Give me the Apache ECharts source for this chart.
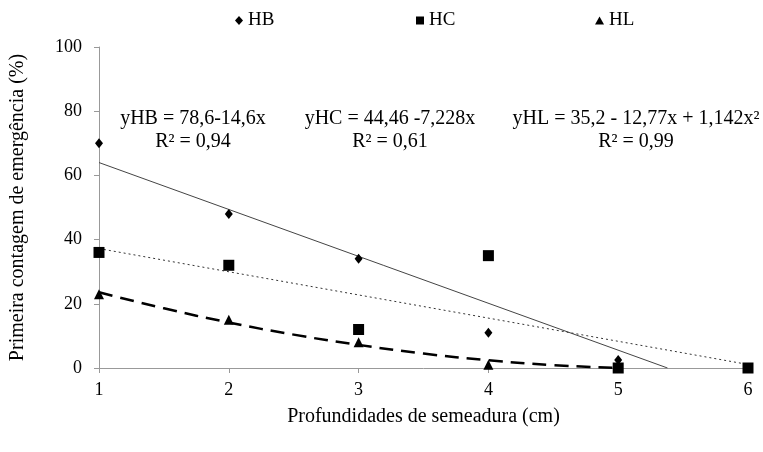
<!DOCTYPE html>
<html>
<head>
<meta charset="utf-8">
<script src="https://cdn.jsdelivr.net/npm/echarts@6/dist/echarts.min.js"></script>
<style>
  html, body { margin: 0; padding: 0; background: #fff; }
  #chart { width: 763px; height: 452px; }
</style>
</head>
<body>
<div id="chart"></div>
<script>
// profundidade (cm)
var depths = [1, 2, 3, 4, 5, 6];
// observed values (%)
var hbValues = [70, 48, 34, 11, 2.5, 0];
var hcValues = [36, 32, 12, 35, 0, 0];
var hlValues = [23, 15, 8, 1, 0, 0];

// trend lines
var hbTrend = [[1, 64], [5.38, 0]];
var hcTrend = [[1, 37.2], [6, 1.1]];
var hlTrendX = [1, 1.5, 2, 2.5, 3, 3.5, 4, 4.5, 5];
var hlTrendY = [23.6, 18.6, 14.2, 10.4, 7.2, 4.5, 2.4, 0.9, 0];

var eqLines = ['yHB = 78,6-14,6x', 'yHC = 44,46 -7,228x', 'yHL = 35,2 - 12,77x + 1,142x²'];
var r2Lines = ['R² = 0,94', 'R² = 0,61', 'R² = 0,99'];
var eqCenters = [193, 390, 636];

function pairs(xs, ys) {
	return xs.map(function(x, i) { return [x, ys[i]]; });
}

var serif = 'Liberation Serif';
var chart = echarts.init(document.getElementById('chart'));

var legendStyle = { fontFamily: serif, fontSize: 19, color: '#000' };

// equation texts
var graphics = [];
eqLines.forEach(function(t, i) {
	graphics.push({
		type: 'text', x: eqCenters[i], y: 119,
		style: { text: t, font: '20px "Liberation Serif"', fill: '#000', align: 'center', verticalAlign: 'middle' }
	});
	graphics.push({
		type: 'text', x: eqCenters[i], y: 142,
		style: { text: r2Lines[i], font: '20px "Liberation Serif"', fill: '#000', align: 'center', verticalAlign: 'middle' }
	});
});

var option = {
	animation: false,
	textStyle: { fontFamily: serif },
	grid: { left: 99, right: 15, top: 47, bottom: 84 },
	legend: [{
		data: ['HB'], left: 230, top: 6, itemWidth: 8, itemHeight: 9, itemGap: 4, textStyle: legendStyle
	}, {
		data: ['HC'], left: 411, top: 6, itemWidth: 8, itemHeight: 8, itemGap: 4, textStyle: legendStyle
	}, {
		data: ['HL'], left: 590, top: 6, itemWidth: 9, itemHeight: 8, itemGap: 4, textStyle: legendStyle
	}],
	xAxis: {
		type: 'value', min: 1, max: 6, interval: 1,
		name: 'Profundidades de semeadura (cm)',
		nameLocation: 'middle', nameGap: 39,
		nameTextStyle: { fontFamily: serif, fontSize: 20, color: '#000' },
		axisLine: { lineStyle: { color: '#999', width: 1 } },
		axisTick: { show: true, length: 5, lineStyle: { color: '#999' } },
		axisLabel: { fontFamily: serif, fontSize: 18, color: '#000', margin: 13 },
		splitLine: { show: false }
	},
	yAxis: {
		type: 'value', min: 0, max: 100, interval: 20,
		name: 'Primeira contagem de emergência (%)',
		nameLocation: 'middle', nameGap: 71, nameRotate: 90,
		nameTextStyle: { fontFamily: serif, fontSize: 20, color: '#000' },
		axisLine: { show: true, lineStyle: { color: '#999', width: 1 } },
		axisTick: { show: true, length: 5, lineStyle: { color: '#999' } },
		axisLabel: { fontFamily: serif, fontSize: 18, color: '#000', margin: 17 },
		splitLine: { show: false }
	},
	graphic: graphics,
	series: [{
		name: 'HB trend', type: 'line', data: hbTrend, symbol: 'none', silent: true,
		lineStyle: { color: '#444', width: 1, type: 'solid' }, z: 1
	}, {
		name: 'HC trend', type: 'line', data: hcTrend, symbol: 'none', silent: true,
		lineStyle: { color: '#333', width: 1, type: [2, 3] }, z: 1
	}, {
		name: 'HL trend', type: 'line', data: pairs(hlTrendX, hlTrendY), symbol: 'none', smooth: true, silent: true,
		lineStyle: { color: '#000', width: 2.5, type: [14, 8] }, z: 1
	}, {
		name: 'HB', type: 'scatter', data: pairs(depths, hbValues), symbol: 'diamond', symbolSize: [8, 10],
		itemStyle: { color: '#000', opacity: 1 }, z: 3
	}, {
		name: 'HC', type: 'scatter', data: pairs(depths, hcValues), symbol: 'rect', symbolSize: 11,
		itemStyle: { color: '#000', opacity: 1 }, z: 4
	}, {
		name: 'HL', type: 'scatter', data: pairs(depths, hlValues), symbol: 'triangle', symbolSize: [10, 10],
		itemStyle: { color: '#000', opacity: 1 }, z: 2
	}]
};

chart.setOption(option);
</script>
</body>
</html>
